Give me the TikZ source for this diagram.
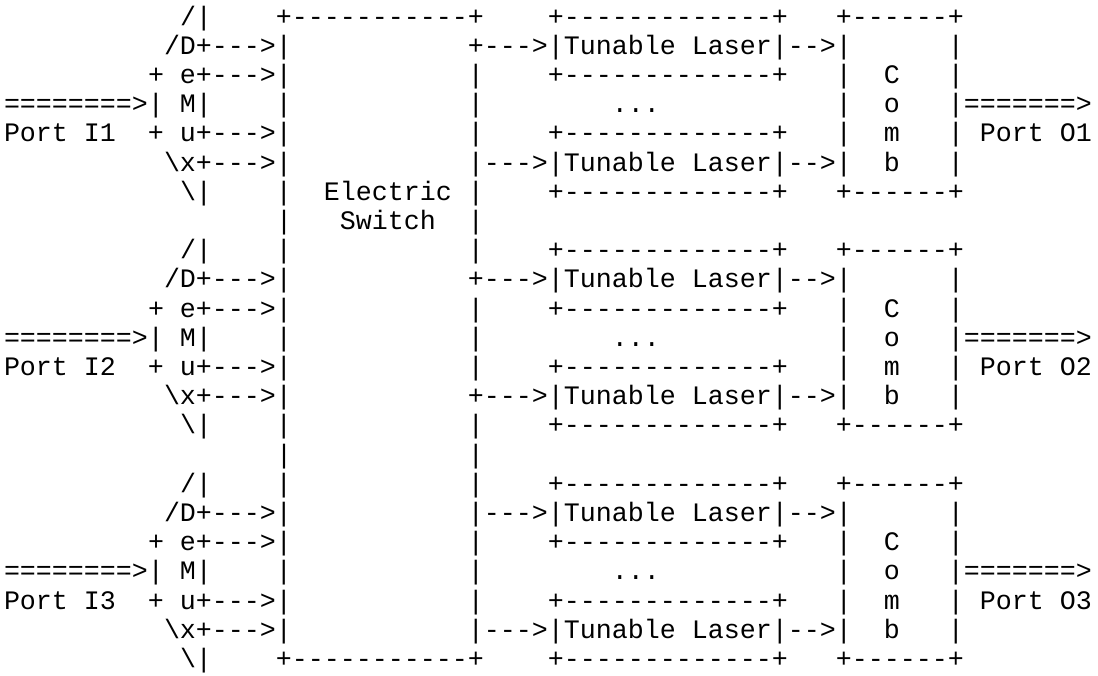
\documentclass[tikz,border=0pt]{standalone}
\usepackage{fontspec}
\newfontfamily\asc{Liberation Mono}
\newlength\cw
\setlength\cw{8pt}
\newcommand\sk[1]{\hspace*{#1\cw}}
\newcommand\bs{\textbackslash}
\tikzset{ascline/.style={font=\asc\fontsize{13.331pt}{14.6pt}\selectfont, anchor=base west, inner sep=0pt, outer sep=0pt}}
\begin{document}
\begin{tikzpicture}[x=0.5pt,y=-0.5pt]
\useasboundingbox (0,0) rectangle (1098,675);
\node[ascline] (l1)  at (4,25)    {\sk{11}/|\sk{4}+-----------+\sk{4}+-------------+\sk{3}+------+};
\node[ascline] (l2)  at (4,54.2)  {\sk{10}/D+--->|\sk{11}+--->|Tunable\sk{1}Laser|-->|\sk{6}|};
\node[ascline] (l3)  at (4,83.4)  {\sk{9}+\sk{1}e+--->|\sk{11}|\sk{4}+-------------+\sk{3}|\sk{2}C\sk{3}|};
\node[ascline] (l4)  at (4,112.6) {========>|\sk{1}M|\sk{4}|\sk{11}|\sk{8}...\sk{11}|\sk{2}o\sk{3}|=======>};
\node[ascline] (l5)  at (4,141.8) {Port\sk{1}I1\sk{2}+\sk{1}u+--->|\sk{11}|\sk{4}+-------------+\sk{3}|\sk{2}m\sk{3}|\sk{1}Port\sk{1}O1};
\node[ascline] (l6)  at (4,171)   {\sk{10}\bs x+--->|\sk{11}|--->|Tunable\sk{1}Laser|-->|\sk{2}b\sk{3}|};
\node[ascline] (l7)  at (4,200.2) {\sk{11}\bs|\sk{4}|\sk{2}Electric\sk{1}|\sk{4}+-------------+\sk{3}+------+};
\node[ascline] (l8)  at (4,229.4) {\sk{17}|\sk{3}Switch\sk{2}|};
\node[ascline] (l9)  at (4,258.6) {\sk{11}/|\sk{4}|\sk{11}|\sk{4}+-------------+\sk{3}+------+};
\node[ascline] (l10) at (4,287.8) {\sk{10}/D+--->|\sk{11}+--->|Tunable\sk{1}Laser|-->|\sk{6}|};
\node[ascline] (l11) at (4,317)   {\sk{9}+\sk{1}e+--->|\sk{11}|\sk{4}+-------------+\sk{3}|\sk{2}C\sk{3}|};
\node[ascline] (l12) at (4,346.2) {========>|\sk{1}M|\sk{4}|\sk{11}|\sk{8}...\sk{11}|\sk{2}o\sk{3}|=======>};
\node[ascline] (l13) at (4,375.4) {Port\sk{1}I2\sk{2}+\sk{1}u+--->|\sk{11}|\sk{4}+-------------+\sk{3}|\sk{2}m\sk{3}|\sk{1}Port\sk{1}O2};
\node[ascline] (l14) at (4,404.6) {\sk{10}\bs x+--->|\sk{11}+--->|Tunable\sk{1}Laser|-->|\sk{2}b\sk{3}|};
\node[ascline] (l15) at (4,433.8) {\sk{11}\bs|\sk{4}|\sk{11}|\sk{4}+-------------+\sk{3}+------+};
\node[ascline] (l16) at (4,463)   {\sk{17}|\sk{11}|};
\node[ascline] (l17) at (4,492.2) {\sk{11}/|\sk{4}|\sk{11}|\sk{4}+-------------+\sk{3}+------+};
\node[ascline] (l18) at (4,521.4) {\sk{10}/D+--->|\sk{11}|--->|Tunable\sk{1}Laser|-->|\sk{6}|};
\node[ascline] (l19) at (4,550.6) {\sk{9}+\sk{1}e+--->|\sk{11}|\sk{4}+-------------+\sk{3}|\sk{2}C\sk{3}|};
\node[ascline] (l20) at (4,579.8) {========>|\sk{1}M|\sk{4}|\sk{11}|\sk{8}...\sk{11}|\sk{2}o\sk{3}|=======>};
\node[ascline] (l21) at (4,609)   {Port\sk{1}I3\sk{2}+\sk{1}u+--->|\sk{11}|\sk{4}+-------------+\sk{3}|\sk{2}m\sk{3}|\sk{1}Port\sk{1}O3};
\node[ascline] (l22) at (4,638.2) {\sk{10}\bs x+--->|\sk{11}|--->|Tunable\sk{1}Laser|-->|\sk{2}b\sk{3}|};
\node[ascline] (l23) at (4,667.4) {\sk{11}\bs|\sk{4}+-----------+\sk{4}+-------------+\sk{3}+------+};
\end{tikzpicture}
\end{document}
